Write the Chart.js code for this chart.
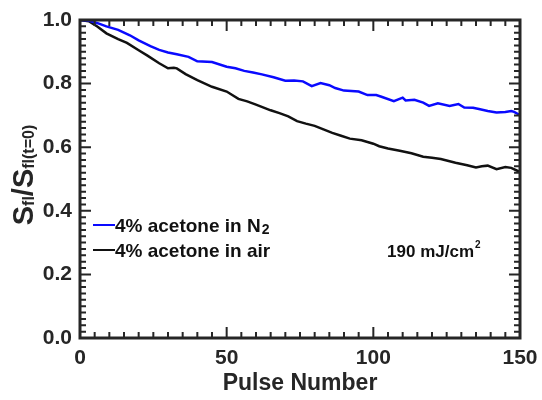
<!DOCTYPE html>
<html>
<head>
<meta charset="utf-8">
<script src="https://cdn.jsdelivr.net/npm/chart.js@4.4.1/dist/chart.umd.min.js"></script>
<style>
    html, body { margin: 0; padding: 0; background: #fff; }
</style>
</head>
<body>
<canvas id="myChart" width="542" height="400"></canvas>
<script>
// data
const pulsesN2 = [0, 3, 6, 9, 13, 17, 20, 24, 27, 30, 33, 37, 40, 45, 50, 53, 56, 59, 62, 66, 70, 73, 76, 79, 82, 85, 87, 90, 95, 98, 101, 103, 107, 110, 111, 114, 117, 119, 122, 126, 129, 131, 134, 136, 139, 142, 145, 147, 148, 150];
const signalN2 = [1.0, 0.998, 0.99, 0.98, 0.969, 0.952, 0.936, 0.918, 0.906, 0.898, 0.892, 0.884, 0.870, 0.868, 0.853, 0.848, 0.840, 0.835, 0.829, 0.820, 0.809, 0.810, 0.807, 0.792, 0.802, 0.795, 0.786, 0.778, 0.775, 0.764, 0.764, 0.758, 0.745, 0.756, 0.747, 0.749, 0.740, 0.730, 0.738, 0.730, 0.736, 0.725, 0.724, 0.720, 0.714, 0.709, 0.711, 0.714, 0.711, 0.701];

const pulsesAir = [0, 3, 6, 9, 13, 16, 20, 23, 27, 30, 32, 33, 36, 40, 45, 50, 54, 57, 60, 65, 68, 71, 74, 77, 80, 83, 86, 89, 92, 96, 100, 102, 105, 109, 113, 117, 120, 123, 126, 128, 132, 135, 137, 139, 142, 145, 147, 150];
const signalAir = [1.0, 0.996, 0.979, 0.958, 0.940, 0.928, 0.905, 0.888, 0.864, 0.848, 0.850, 0.848, 0.830, 0.811, 0.790, 0.775, 0.752, 0.744, 0.734, 0.716, 0.707, 0.697, 0.682, 0.674, 0.667, 0.656, 0.645, 0.636, 0.627, 0.622, 0.611, 0.603, 0.596, 0.589, 0.581, 0.570, 0.567, 0.563, 0.556, 0.551, 0.543, 0.536, 0.540, 0.542, 0.531, 0.538, 0.535, 0.522];

const seriesNames = ['4% acetone in N', '4% acetone in air'];
const seriesColors = ['#0a0aff', '#111111'];
const xTickStep = 50;
const yTickStep = 0.2;
const fluence = '190 mJ/cm';

const FONT = '"Liberation Sans", Arial, sans-serif';
const INK = '#262626';

const toPoints = (xs, ys) => xs.map((v, i) => ({ x: v, y: ys[i] }));

// inward ticks on all four sides + frame
const framePlugin = {
    id: 'frame',
    afterDatasetsDraw(chart) {
        const { ctx, chartArea: a, scales: { x, y } } = chart;
        ctx.save();
        ctx.strokeStyle = INK;
        ctx.lineWidth = 2;
        ctx.beginPath();
        for (let v = 0; v <= 150; v += 5) {
            const px = x.getPixelForValue(v);
            const len = v % 50 === 0 ? 11 : 6;
            ctx.moveTo(px, a.bottom); ctx.lineTo(px, a.bottom - len);
            ctx.moveTo(px, a.top); ctx.lineTo(px, a.top + len);
        }
        for (let i = 0; i <= 50; i++) {
            const py = y.getPixelForValue(i * 0.02);
            const len = i % 10 === 0 ? 11 : 6;
            ctx.moveTo(a.left, py); ctx.lineTo(a.left + len, py);
            ctx.moveTo(a.right, py); ctx.lineTo(a.right - len, py);
        }
        ctx.stroke();
        ctx.lineWidth = 3;
        ctx.strokeRect(a.left, a.top, a.right - a.left, a.bottom - a.top);
        ctx.restore();
    },
    afterDraw(chart) {
        const { ctx, chartArea: a, scales: { x, y } } = chart;
        ctx.save();
        ctx.fillStyle = INK;

        // y axis title: S_fl / S_fl(t=0)
        ctx.translate(33, 175);
        ctx.rotate(-Math.PI / 2);
        const parts = [
            ['S', 'bold 29px ' + FONT, 0],
            ['fl', 'bold 16px ' + FONT, 1],
            ['/S', 'bold 29px ' + FONT, 0],
            ['fl(t=0)', 'bold 16px ' + FONT, 1]
        ];
        let total = 0;
        parts.forEach(p => { ctx.font = p[1]; total += ctx.measureText(p[0]).width; });
        let cx = -total / 2;
        ctx.textBaseline = 'alphabetic';
        parts.forEach(p => {
            ctx.font = p[1];
            ctx.fillText(p[0], cx, p[2]);
            cx += ctx.measureText(p[0]).width;
        });
        ctx.restore();

        // legend
        ctx.save();
        ctx.textBaseline = 'middle';
        ctx.font = 'bold 19px ' + FONT;
        seriesNames.forEach((name, i) => {
            const ly = a.top + 205 + i * 25;
            ctx.strokeStyle = seriesColors[i];
            ctx.lineWidth = 2;
            ctx.beginPath();
            ctx.moveTo(a.left + 13, ly);
            ctx.lineTo(a.left + 35, ly);
            ctx.stroke();
            ctx.fillStyle = '#111';
            ctx.font = 'bold 19px ' + FONT;
            ctx.fillText(name, a.left + 35, ly + 2);
            if (i === 0) {
                const w = ctx.measureText(name).width;
                ctx.font = 'bold 14px ' + FONT;
                ctx.fillText('2', a.left + 35 + w + 1, ly + 5);
            }
        });

        // fluence note
        ctx.fillStyle = '#111';
        ctx.font = 'bold 17px ' + FONT;
        const fx = x.getPixelForValue(104.7);
        const fy = y.getPixelForValue(0.27);
        ctx.fillText(fluence, fx, fy);
        const fw = ctx.measureText(fluence).width;
        ctx.font = 'bold 10px ' + FONT;
        ctx.fillText('2', fx + fw + 1, fy - 7);
        ctx.restore();
    }
};

function makeChart() {
    const ctx = document.getElementById('myChart').getContext('2d');
    new Chart(ctx, {
        type: 'line',
        data: {
            datasets: [
                {
                    label: seriesNames[0],
                    data: toPoints(pulsesN2, signalN2),
                    borderColor: seriesColors[0],
                    borderWidth: 2.5,
                    pointRadius: 0,
                    tension: 0
                },
                {
                    label: seriesNames[1],
                    data: toPoints(pulsesAir, signalAir),
                    borderColor: seriesColors[1],
                    borderWidth: 2.5,
                    pointRadius: 0,
                    tension: 0
                }
            ]
        },
        options: {
            responsive: false,
            animation: false,
            layout: { padding: { top: 20, right: 22, left: 0, bottom: 0 } },
            scales: {
                x: {
                    type: 'linear',
                    min: 0,
                    max: 150,
                    afterFit: s => {
                        s.height = 62;
                        s.paddingLeft = 0;
                        s.paddingRight = 0;
                    },
                    grid: { display: false, drawTicks: false },
                    border: { display: false },
                    ticks: {
                        stepSize: xTickStep,
                        padding: 8,
                        color: INK,
                        font: { family: FONT, size: 21, weight: 'bold' }
                    },
                    title: {
                        display: true,
                        text: 'Pulse Number',
                        color: INK,
                        padding: { top: 0, bottom: 3 },
                        font: { family: FONT, size: 23, weight: 'bold' }
                    }
                },
                y: {
                    min: 0,
                    max: 1,
                    afterFit: s => {
                        s.width = 80;
                        s.paddingTop = 0;
                        s.paddingBottom = 0;
                    },
                    grid: { display: false, drawTicks: false },
                    border: { display: false },
                    ticks: {
                        stepSize: yTickStep,
                        padding: 8,
                        color: INK,
                        font: { family: FONT, size: 21, weight: 'bold' },
                        callback: v => v.toFixed(1)
                    }
                }
            },
            plugins: {
                legend: { display: false },
                tooltip: { enabled: false }
            }
        },
        plugins: [framePlugin]
    });
}

makeChart();
</script>
</body>
</html>
